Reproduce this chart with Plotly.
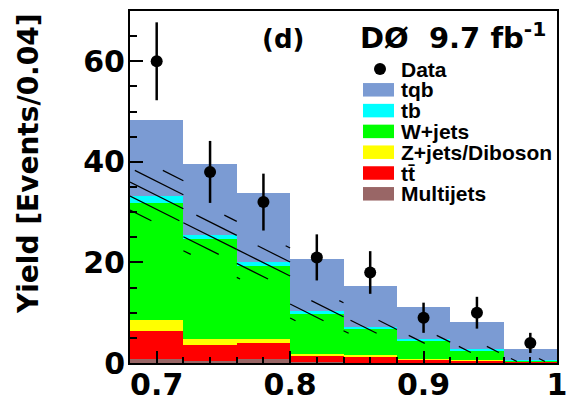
import numpy as np
import plotly.graph_objects as go

# Discriminant binning (width 0.04)
bin_edges = [0.68, 0.72, 0.76, 0.80, 0.84, 0.88, 0.92, 0.96, 1.00]

# Predicted yields per bin for each process
multijets = [0.8, 0.3, 0.8, 0.15, 0.1, 0.05, 0.05, 0.05]
ttbar = [5.5, 3.2, 3.1, 1.3, 1.1, 0.6, 0.4, 0.2]
zjets_diboson = [2.2, 1.3, 0.9, 0.4, 0.3, 0.12, 0.12, 0.1]
wjets = [23.3, 19.8, 14.4, 7.95, 5.3, 3.53, 1.93, 0.15]
tb = [1.5, 0.9, 0.8, 0.6, 0.4, 0.4, 0.2, 0.1]
tqb = [15.1, 14.0, 13.8, 10.2, 8.1, 6.5, 5.5, 2.2]

# Absolute uncertainty on the background prediction
bkg_unc = [5.0, 3.9, 3.3, 2.0, 1.3, 0.8, 0.6, 0.3]

# Observed events
data = [60, 38, 32, 21, 18, 9, 10, 4]

# Stacking order (bottom to top)
process_names = ["Multijets", "tt\u0304", "Z+jets/Diboson", "W+jets", "tb", "tqb"]
process_colors = ["#996666", "#ff0000", "#ffff00", "#00ff00", "#00ffff", "#7b9bd3"]
process_yields = [multijets, ttbar, zjets_diboson, wjets, tb, tqb]

x_ticks = [0.7, 0.8, 0.9, 1.0]
x_tick_text = ["0.7", "0.8", "0.9", "1"]
y_ticks = [0, 20, 40, 60]
y_range = [0, 70]

# Page geometry
W, H = 567, 402
ML, MR, MT, MB = 130, 10, 11, 39
PW, PH = W - ML - MR, H - MT - MB


def px_x(x):
    return (x - ML) / PW


def px_y(y):
    return 1 - (y - MT) / PH


edges = np.array(bin_edges)
centers = 0.5 * (edges[:-1] + edges[1:])
widths = np.diff(edges)
x_lo, x_hi = edges[0], edges[-1]


# data <-> pixel helpers for the hatching
def dx_to_px(x):
    return ML + (x - x_lo) / (x_hi - x_lo) * PW


def dy_to_px(y):
    return MT + (y_range[1] - y) / (y_range[1] - y_range[0]) * PH


def px_to_dx(p):
    return x_lo + (p - ML) / PW * (x_hi - x_lo)


def px_to_dy(p):
    return y_range[1] - (p - MT) / PH * (y_range[1] - y_range[0])


fig = go.Figure()

# Stacked process histograms
base = np.zeros(len(centers))
for name, color, vals in zip(process_names, process_colors, process_yields):
    vals = np.array(vals)
    fig.add_trace(go.Bar(
        x=centers, y=vals, base=base, width=widths,
        marker=dict(color=color, line=dict(width=0)),
        name=name, showlegend=False,
    ))
    base = base + vals

# Hatched uncertainty band around the background sum (all but tqb):
# parallel lines of pixel slope 0.5, clipped to each bin's band.
bkg_sum = np.sum(np.array(process_yields[:-1]), axis=0)
unc = np.array(bkg_unc)
slope, spacing = 0.5, 14.0
hx, hy = [], []
for i in range(len(centers)):
    xa, xb = dx_to_px(edges[i]), dx_to_px(edges[i + 1])
    ya, yb = dy_to_px(bkg_sum[i] + unc[i]), dy_to_px(bkg_sum[i] - unc[i])
    # line: y = slope * (x - ML) + c
    c_min = ya - slope * (xb - ML)
    c_max = yb - slope * (xa - ML)
    k0 = int(np.ceil(c_min / spacing))
    k1 = int(np.floor(c_max / spacing))
    for k in range(k0, k1 + 1):
        c = k * spacing
        x_start = max(xa, (ya - c) / slope + ML)
        x_end = min(xb, (yb - c) / slope + ML)
        if x_end - x_start < 1:
            continue
        for xp in (x_start, x_end):
            hx.append(px_to_dx(xp))
            hy.append(px_to_dy(slope * (xp - ML) + c))
        hx.append(None)
        hy.append(None)

fig.add_trace(go.Scatter(
    x=hx, y=hy, mode="lines",
    line=dict(color="black", width=1.2),
    showlegend=False, hoverinfo="skip",
))

# Data with Poisson errors
fig.add_trace(go.Scatter(
    x=centers, y=data, mode="markers",
    marker=dict(size=12, color="black"),
    error_y=dict(type="data", array=np.sqrt(data), thickness=2.5,
                 width=0, color="black"),
    showlegend=False,
))

shapes = []
annotations = []

# Legend
leg_font = dict(family="Liberation Sans, Arial", size=21, color="black",
                weight="bold")
row0, step = 69.0, 20.8
box_x0, box_x1, box_h = 363, 394, 13.5
text_x = 399

shapes.append(dict(
    type="circle", xref="paper", yref="paper",
    xsizemode="pixel", ysizemode="pixel",
    xanchor=px_x(380), yanchor=px_y(row0),
    x0=-6, x1=6, y0=-6, y1=6,
    fillcolor="black", line=dict(width=0),
))
annotations.append(dict(
    x=px_x(text_x), y=px_y(row0), xref="paper", yref="paper",
    text="Data", showarrow=False, xanchor="left", yanchor="middle",
    font=leg_font,
))
for i, (name, color) in enumerate(zip(process_names[::-1],
                                       process_colors[::-1]), start=1):
    yc = row0 + i * step
    shapes.append(dict(
        type="rect", xref="paper", yref="paper",
        x0=px_x(box_x0), x1=px_x(box_x1),
        y0=px_y(yc - box_h / 2), y1=px_y(yc + box_h / 2),
        fillcolor=color, line=dict(width=0),
    ))
    annotations.append(dict(
        x=px_x(text_x), y=px_y(yc), xref="paper", yref="paper",
        text=name, showarrow=False, xanchor="left", yanchor="middle",
        font=leg_font,
    ))

big_font = dict(family="DejaVu Sans", color="black", weight="bold")

annotations.append(dict(
    x=px_x(283), y=px_y(39), xref="paper", yref="paper",
    text="(d)", showarrow=False, xanchor="center", yanchor="middle",
    font=dict(big_font, size=26),
))
annotations.append(dict(
    x=px_x(358), y=px_y(36), xref="paper", yref="paper",
    text="DØ  9.7 fb<sup>-1</sup>", showarrow=False,
    xanchor="left", yanchor="middle",
    font=dict(big_font, size=29),
))

# Vertical axis title
annotations.append(dict(
    x=px_x(29), y=px_y(164), xref="paper", yref="paper",
    text="Yield [Events/0.04]", showarrow=False, textangle=-90,
    xanchor="center", yanchor="middle",
    font=dict(big_font, size=28),
))

tick_font = dict(family="DejaVu Sans", size=30, color="black", weight="bold")

fig.update_layout(
    width=W, height=H,
    margin=dict(l=ML, r=MR, t=MT, b=MB, autoexpand=False),
    paper_bgcolor="white", plot_bgcolor="white",
    barmode="overlay", bargap=0,
    showlegend=False,
    shapes=shapes, annotations=annotations,
    xaxis=dict(
        range=[x_lo, x_hi], automargin=False,
        tickvals=x_ticks, ticktext=x_tick_text,
        ticks="inside", ticklen=12, tickwidth=2, tickcolor="black",
        minor=dict(dtick=0.02, tick0=0.68, ticks="inside", ticklen=6,
                   tickwidth=2, tickcolor="black"),
        showline=True, linewidth=2, linecolor="black", mirror=True,
        showgrid=False, zeroline=False, tickfont=tick_font,
        ticklabelstandoff=-6, ticklabeloverflow="allow",
    ),
    yaxis=dict(
        range=y_range, automargin=False,
        tickvals=y_ticks,
        ticks="inside", ticklen=13, tickwidth=2, tickcolor="black",
        minor=dict(dtick=5, tick0=0, ticks="inside", ticklen=7,
                   tickwidth=2, tickcolor="black"),
        showline=True, linewidth=2, linecolor="black", mirror=True,
        showgrid=False, zeroline=False, tickfont=tick_font,
        ticklabelstandoff=-3, ticklabeloverflow="allow",
    ),
)

fig.write_html("out.html")
